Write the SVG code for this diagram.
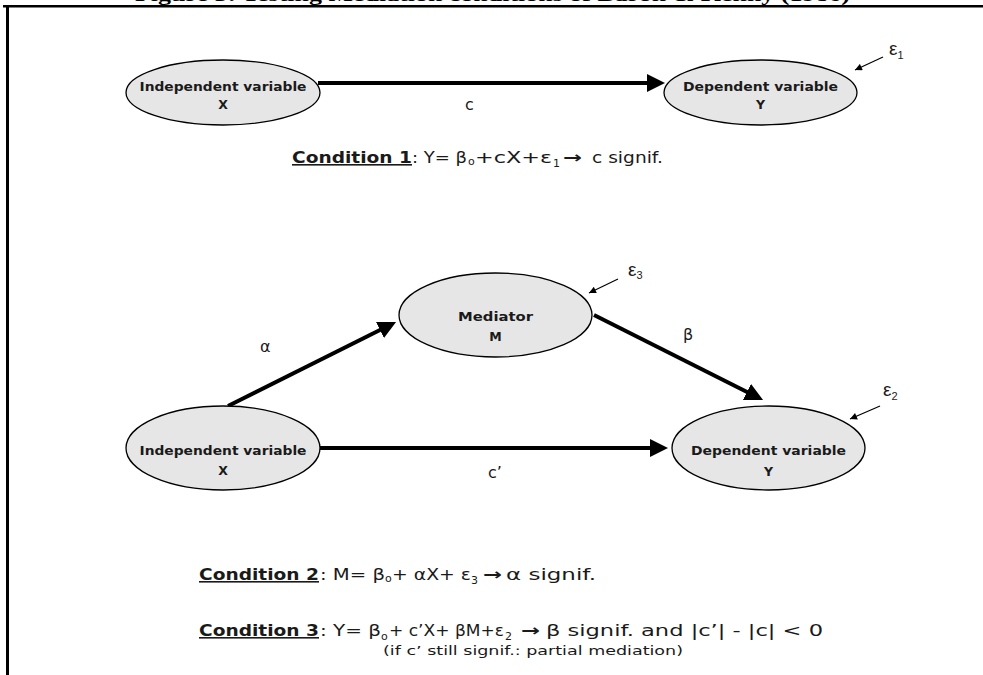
<svg xmlns="http://www.w3.org/2000/svg" width="983" height="675" viewBox="0 0 983 675">
<defs>
<style>
.node ellipse{fill:#e6e6e6;stroke:#000;stroke-width:1.3}
.nt{font-family:"DejaVu Sans","Liberation Sans",sans-serif;font-weight:bold;font-size:12.5px;fill:#1a1a1a;text-anchor:middle}
.big{stroke:#000;stroke-width:4;fill:none;marker-end:url(#ah)}
.thin{stroke:#000;stroke-width:1.2;fill:none;marker-end:url(#sh)}
.lbl{font-family:"DejaVu Sans","Liberation Sans",sans-serif;font-size:16px;fill:#1a1a1a}
.eps{font-family:"Liberation Sans","DejaVu Sans",sans-serif;font-size:19px;fill:#1a1a1a}
.sub{font-size:11px}
.cond{font-family:"DejaVu Sans","Liberation Sans",sans-serif;font-size:16px;fill:#1a1a1a}
.cb{font-weight:bold;text-decoration:underline}
.ar{font-weight:bold}
.note{font-family:"DejaVu Sans","Liberation Sans",sans-serif;font-size:12.5px;fill:#1a1a1a}
.title{font-family:"Liberation Serif",serif;font-weight:bold;font-size:18px;fill:#000}
</style>
<marker id="ah" viewBox="0 0 10 10" refX="5" refY="5" markerWidth="4.5" markerHeight="4.5" orient="auto">
<path d="M0,0 L10,5 L0,10 z" fill="#000"/>
</marker>
<marker id="sh" viewBox="0 0 10 10" refX="10" refY="5" markerWidth="9" markerHeight="7" markerUnits="userSpaceOnUse" orient="auto">
<path d="M0,0 L10,5 L0,10 z" fill="#000"/>
</marker>
</defs>
<rect width="983" height="675" fill="#fff"/>
<text class="title" x="135" y="1" textLength="715" lengthAdjust="spacingAndGlyphs">Figure 3: Testing Mediation conditions of Baron &amp; Kenny (1986)</text>
<g id="frame">
<line x1="3" y1="6.2" x2="983" y2="6.2" stroke="#000" stroke-width="2.6"/>
<line x1="7.5" y1="5" x2="7.5" y2="675" stroke="#000" stroke-width="3"/>
</g>
<g id="connectors">
<line class="big" x1="318" y1="83" x2="656" y2="83"/>
<line class="big" x1="320" y1="448" x2="659" y2="448"/>
<line class="big" x1="228" y1="406" x2="388" y2="326"/>
<line class="big" x1="594" y1="315" x2="755" y2="396"/>
<line class="thin" x1="883" y1="57" x2="855" y2="70"/>
<line class="thin" x1="618" y1="279" x2="589" y2="293"/>
<line class="thin" x1="880" y1="406" x2="850" y2="419"/>
</g>
<g id="labels">
<text class="lbl" x="465" y="110">c</text>
<text class="lbl" x="488" y="478">c’</text>
<text class="lbl" x="260" y="352">α</text>
<text class="lbl" x="683" y="340">β</text>
<text class="eps" x="889" y="55">ε<tspan class="sub" dy="4">1</tspan></text>
<text class="eps" x="628" y="276">ε<tspan class="sub" dy="3">3</tspan></text>
<text class="eps" x="883" y="396">ε<tspan class="sub" dy="4">2</tspan></text>
</g>
<g id="iv1" class="node">
<ellipse cx="223" cy="92.5" rx="97" ry="32.5"/>
<text class="nt" x="223" y="91" textLength="167" lengthAdjust="spacingAndGlyphs">Independent variable</text>
<text class="nt" x="223" y="108.5">X</text>
</g>
<g id="dv1" class="node">
<ellipse cx="760.5" cy="92.5" rx="96.5" ry="32.5"/>
<text class="nt" x="760.5" y="91" textLength="155" lengthAdjust="spacingAndGlyphs">Dependent variable</text>
<text class="nt" x="760.5" y="108.5">Y</text>
</g>
<g id="med" class="node">
<ellipse cx="495.5" cy="315" rx="96.5" ry="42"/>
<text class="nt" x="495.5" y="321" textLength="75" lengthAdjust="spacingAndGlyphs">Mediator</text>
<text class="nt" x="495.5" y="341">M</text>
</g>
<g id="iv2" class="node">
<ellipse cx="223" cy="448" rx="97" ry="42"/>
<text class="nt" x="223" y="455" textLength="167" lengthAdjust="spacingAndGlyphs">Independent variable</text>
<text class="nt" x="223" y="475">X</text>
</g>
<g id="dv2" class="node">
<ellipse cx="768.5" cy="448" rx="96.5" ry="42"/>
<text class="nt" x="768.5" y="455" textLength="155" lengthAdjust="spacingAndGlyphs">Dependent variable</text>
<text class="nt" x="768.5" y="476">Y</text>
</g>
<g id="conditions">
<text class="cond" y="163"><tspan class="cb" x="292" textLength="120" lengthAdjust="spacingAndGlyphs">Condition 1</tspan><tspan x="412" textLength="55" lengthAdjust="spacingAndGlyphs">: Y= β</tspan><tspan class="sub" x="468" dy="2">o</tspan><tspan x="475" dy="-2" textLength="77" lengthAdjust="spacingAndGlyphs">+cX+ε</tspan><tspan class="sub" x="553" dy="4">1</tspan><tspan class="ar" x="563" dy="-4" textLength="19" lengthAdjust="spacingAndGlyphs">→</tspan><tspan x="592" textLength="71" lengthAdjust="spacingAndGlyphs">c signif.</tspan></text>
<text class="cond" y="580"><tspan class="cb" x="199" textLength="120" lengthAdjust="spacingAndGlyphs">Condition 2</tspan><tspan x="320" textLength="65" lengthAdjust="spacingAndGlyphs">: M= β</tspan><tspan class="sub" x="385" dy="2">o</tspan><tspan x="392" dy="-2" textLength="79" lengthAdjust="spacingAndGlyphs">+ αX+ ε</tspan><tspan class="sub" x="471" dy="4">3</tspan><tspan class="ar" x="483" dy="-4" textLength="19" lengthAdjust="spacingAndGlyphs">→</tspan><tspan x="506" textLength="90" lengthAdjust="spacingAndGlyphs">α signif.</tspan></text>
<text class="cond" y="636"><tspan class="cb" x="199" textLength="120" lengthAdjust="spacingAndGlyphs">Condition 3</tspan><tspan x="320" textLength="61" lengthAdjust="spacingAndGlyphs">: Y= β</tspan><tspan class="sub" x="381" dy="4">o</tspan><tspan x="389" dy="-4" textLength="115" lengthAdjust="spacingAndGlyphs">+ c’X+ βM+ε</tspan><tspan class="sub" x="505" dy="4">2</tspan><tspan class="ar" x="521" dy="-4" textLength="19" lengthAdjust="spacingAndGlyphs">→</tspan><tspan x="546" textLength="277" lengthAdjust="spacingAndGlyphs">β signif. and |c’| - |c| &lt; 0</tspan></text>
<text class="note" x="383" y="655" textLength="300" lengthAdjust="spacingAndGlyphs">(if c’ still signif.: partial mediation)</text>
</g>
</svg>
